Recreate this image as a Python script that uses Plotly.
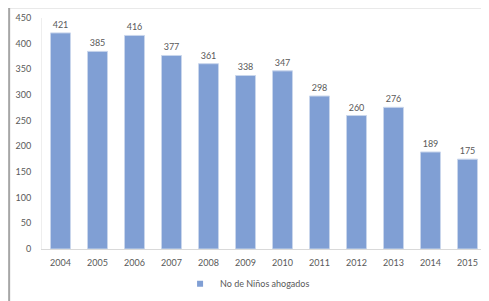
import plotly.graph_objects as go

years = ["2004", "2005", "2006", "2007", "2008", "2009", "2010", "2011", "2012", "2013", "2014", "2015"]
values = [421, 385, 416, 377, 361, 338, 347, 298, 260, 276, 189, 175]
series_name = "No de Niños ahogados"
y_ticks = [0, 50, 100, 150, 200, 250, 300, 350, 400, 450]

BAR = "#809FD4"

fig = go.Figure()
fig.add_trace(go.Bar(
    x=years, y=values, name=series_name,
    marker=dict(color=BAR, line=dict(color="#C9D6EC", width=1)),
    text=[str(v) for v in values], textposition="outside",
    textfont=dict(size=9, color="#595959"), cliponaxis=False,
    showlegend=False,
))
# legend entry with a small square symbol
fig.add_trace(go.Scatter(
    x=[None], y=[None], mode="markers", name=series_name,
    marker=dict(symbol="square", size=6, color=BAR),
    showlegend=True,
))

# page has an 8px body margin, so layout is shifted by -8 px
fig.update_layout(
    width=481, height=293,
    margin=dict(l=34, r=3, t=10, b=48),
    paper_bgcolor="white", plot_bgcolor="white",
    font=dict(family="Lato, Carlito, sans-serif", size=9, color="#595959"),
    bargap=0.46,
    xaxis=dict(type="category", showgrid=False, showline=True, linecolor="#D9D9D9", linewidth=1,
               ticks="", ticklabelstandoff=5, tickfont=dict(size=9, color="#595959")),
    yaxis=dict(range=[0, 450], tickvals=y_ticks, showgrid=False, showline=True, linecolor="#EEEEEE",
               linewidth=1, ticks="", zeroline=False, ticklabelstandoff=8,
               tickfont=dict(size=9, color="#595959")),
    legend=dict(orientation="h", x=0.463, xanchor="center", y=-0.15, yanchor="middle",
                font=dict(size=9, color="#595959"), itemwidth=30),
    shapes=[
        dict(type="line", xref="paper", yref="paper", x0=-0.077, x1=1.01, y0=1.046, y1=1.046,
             line=dict(color="#A6A6A6", width=2)),
        dict(type="line", xref="paper", yref="paper", x0=-0.074, x1=-0.074, y0=1.046, y1=-0.3,
             line=dict(color="#A6A6A6", width=2)),
    ],
)

fig.write_html("out.html")
